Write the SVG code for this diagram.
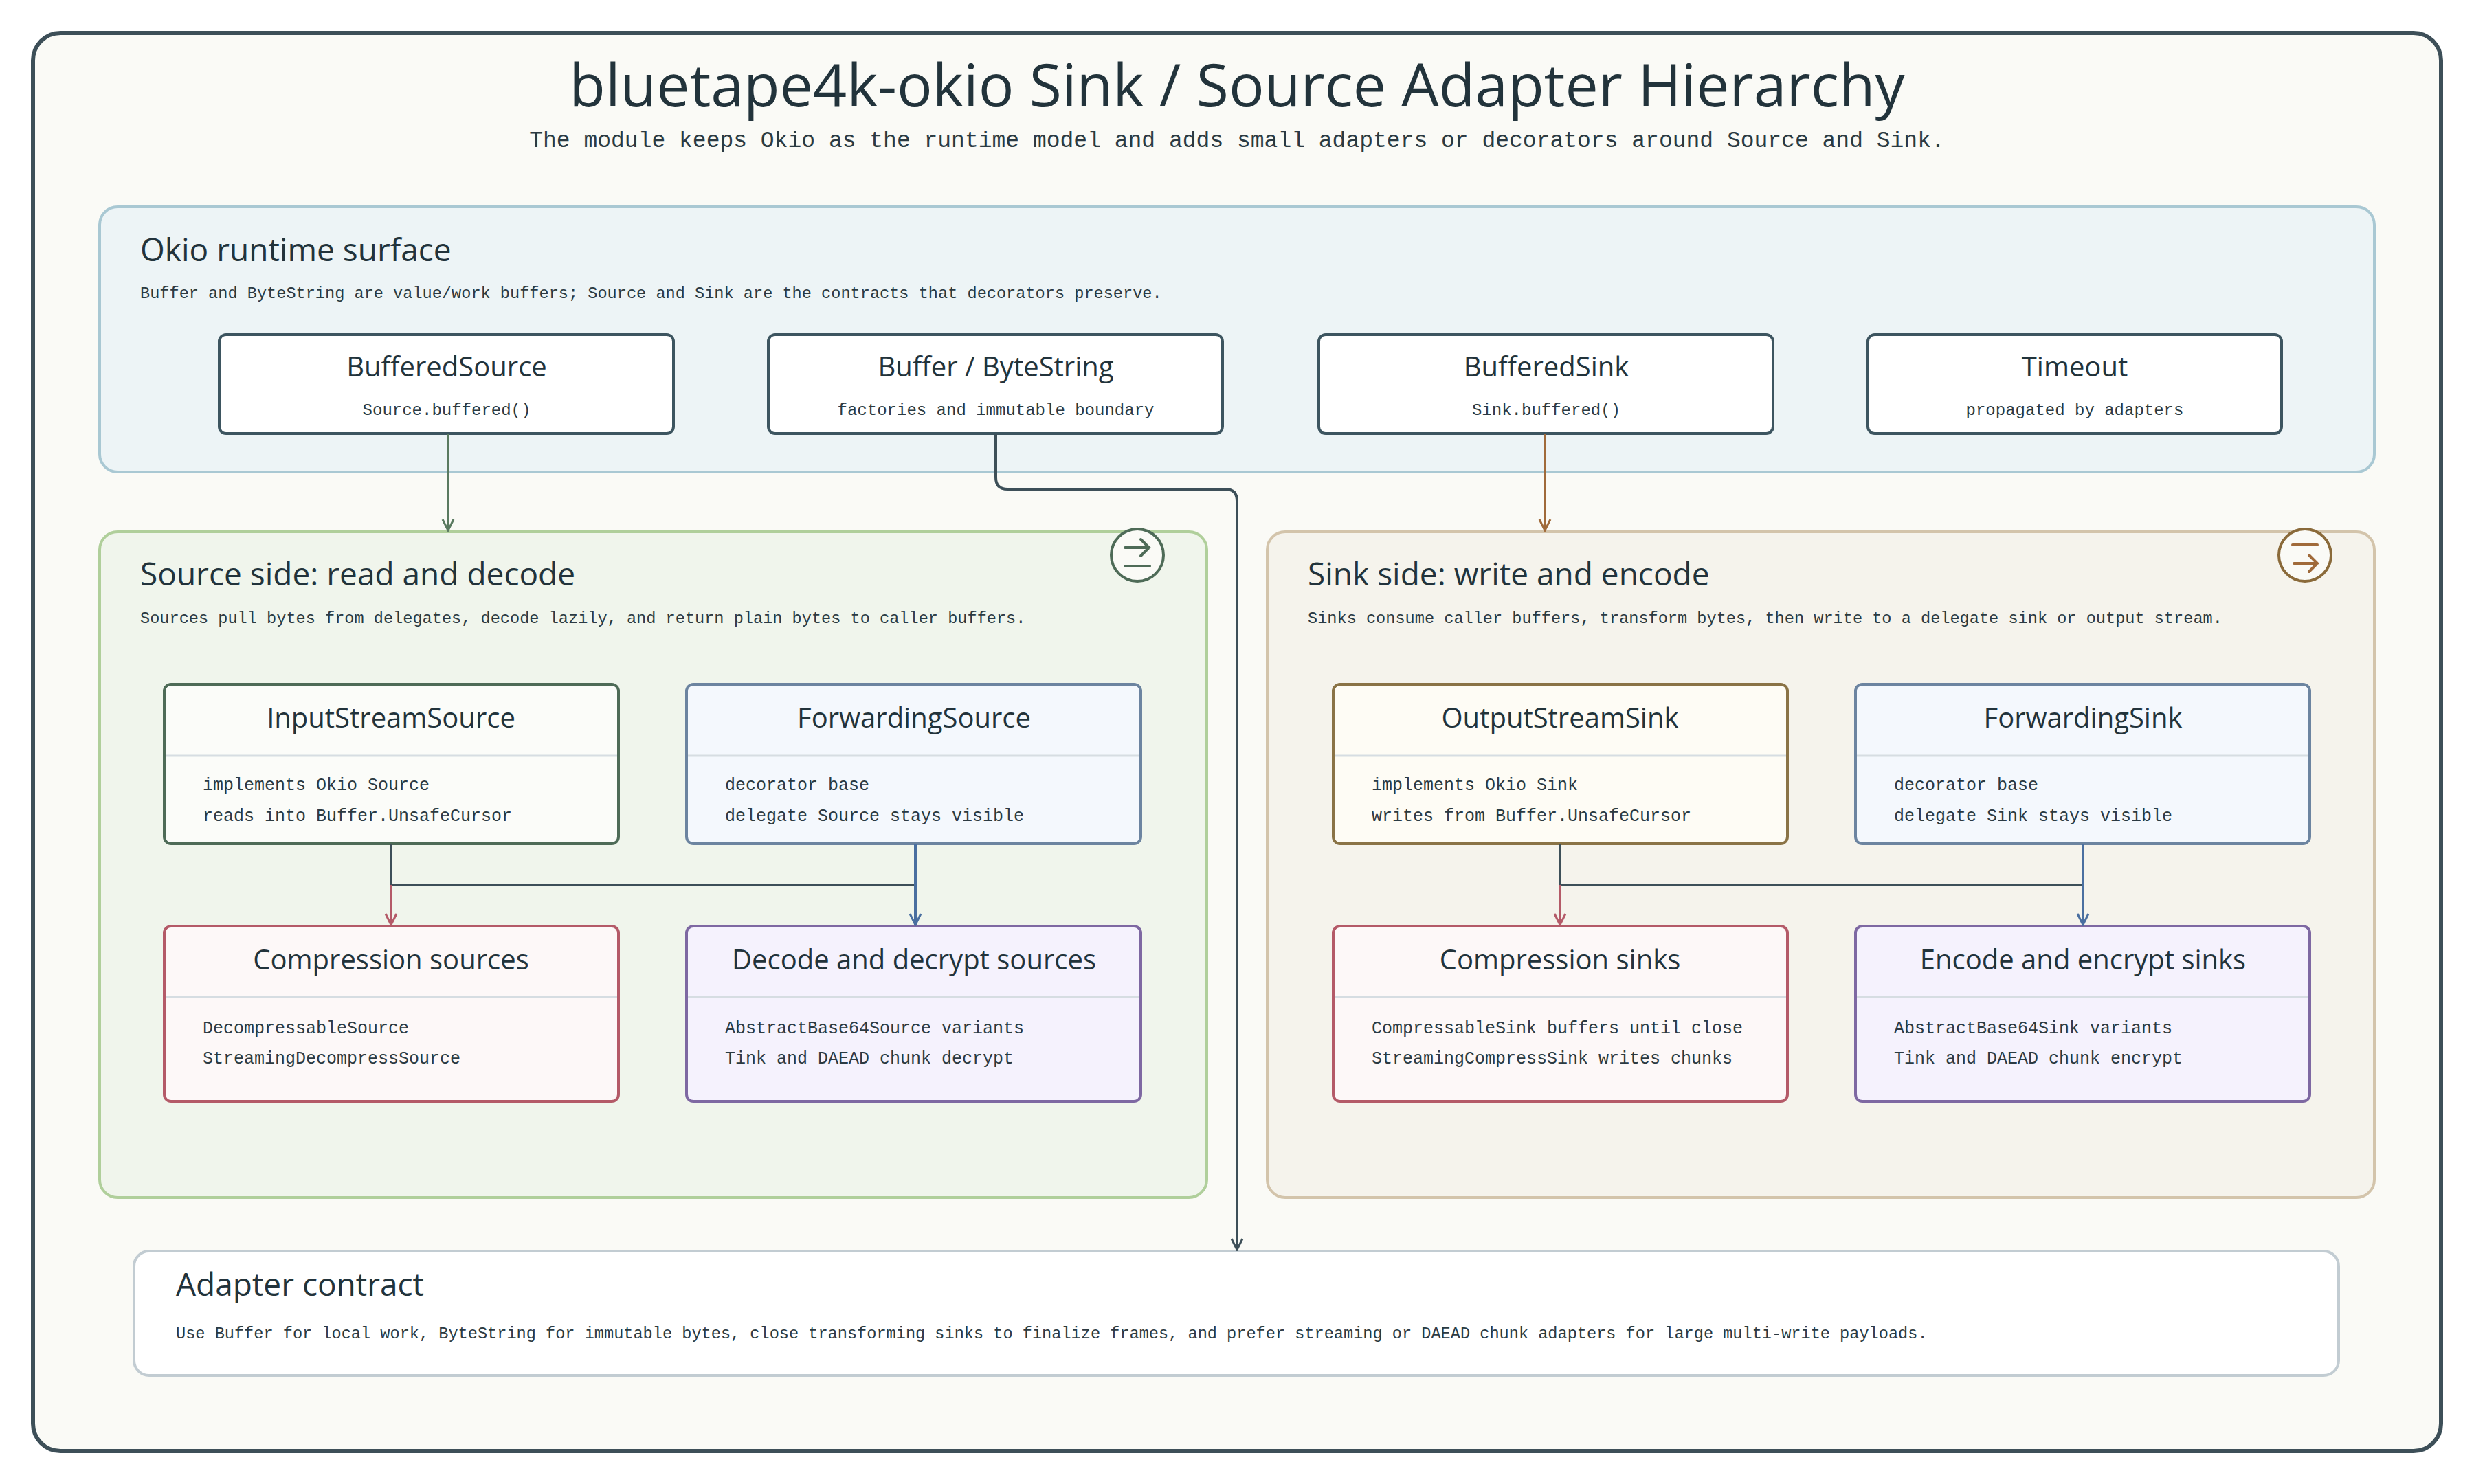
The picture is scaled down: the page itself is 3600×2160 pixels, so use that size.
<svg xmlns="http://www.w3.org/2000/svg" width="3600" height="2160" viewBox="0 0 3600 2160">
<defs>
<style>
.h{font-family:"Open Sans","Liberation Sans",sans-serif;fill:#22333b}
.m{font-family:"Liberation Mono","DejaVu Sans Mono",monospace;fill:#2b3a42}
.div{stroke:#d6dde2;stroke-width:3}
.c{fill:none;stroke-width:4;stroke-linejoin:round}
</style>
<marker id="ag" viewBox="0 0 20 20" refX="10" refY="18" markerWidth="20" markerHeight="20" markerUnits="userSpaceOnUse"><path d="M2 2 L10 18 L18 2" fill="none" stroke="#5a7a60" stroke-width="3"/></marker>
<marker id="ab" viewBox="0 0 20 20" refX="10" refY="18" markerWidth="20" markerHeight="20" markerUnits="userSpaceOnUse"><path d="M2 2 L10 18 L18 2" fill="none" stroke="#a06a3a" stroke-width="3"/></marker>
<marker id="ad" viewBox="0 0 20 20" refX="10" refY="18" markerWidth="20" markerHeight="20" markerUnits="userSpaceOnUse"><path d="M2 2 L10 18 L18 2" fill="none" stroke="#3d4f58" stroke-width="3"/></marker>
<marker id="ar" viewBox="0 0 20 20" refX="10" refY="18" markerWidth="20" markerHeight="20" markerUnits="userSpaceOnUse"><path d="M2 2 L10 18 L18 2" fill="none" stroke="#b45a68" stroke-width="3"/></marker>
<marker id="al" viewBox="0 0 20 20" refX="10" refY="18" markerWidth="20" markerHeight="20" markerUnits="userSpaceOnUse"><path d="M2 2 L10 18 L18 2" fill="none" stroke="#4a6fa0" stroke-width="3"/></marker>
</defs>
<rect width="3600" height="2160" fill="#ffffff"/>
<rect x="48" y="48" width="3504" height="2064" rx="40" fill="#fafaf6" stroke="#3d4f58" stroke-width="6"/>
<text class="h" x="1800" y="155" font-size="86" text-anchor="middle">bluetape4k-okio Sink / Source Adapter Hierarchy</text>
<text class="m" x="1800" y="214" font-size="33" text-anchor="middle">The module keeps Okio as the runtime model and adds small adapters or decorators around Source and Sink.</text>

<g id="okio-panel">
<rect x="145" y="301" width="3310" height="386" rx="26" fill="#edf4f6" stroke="#a9c8d3" stroke-width="4"/>
<text class="h" x="204" y="380" font-size="46">Okio runtime surface</text>
<text class="m" x="204" y="434" font-size="23.6">Buffer and ByteString are value/work buffers; Source and Sink are the contracts that decorators preserve.</text>
</g>
<g id="buffered-source"><rect x="319" y="487" width="661" height="144" rx="10" fill="#fff" stroke="#3d5560" stroke-width="4"/>
<text class="h" x="650" y="548" font-size="40" text-anchor="middle">BufferedSource</text>
<text class="m" x="650" y="604" font-size="24" text-anchor="middle">Source.buffered()</text></g>
<g id="buffer-bytestring"><rect x="1118" y="487" width="661" height="144" rx="10" fill="#fff" stroke="#3d5560" stroke-width="4"/>
<text class="h" x="1449" y="548" font-size="40" text-anchor="middle">Buffer / ByteString</text>
<text class="m" x="1449" y="604" font-size="24" text-anchor="middle">factories and immutable boundary</text></g>
<g id="buffered-sink"><rect x="1919" y="487" width="661" height="144" rx="10" fill="#fff" stroke="#3d5560" stroke-width="4"/>
<text class="h" x="2250" y="548" font-size="40" text-anchor="middle">BufferedSink</text>
<text class="m" x="2250" y="604" font-size="24" text-anchor="middle">Sink.buffered()</text></g>
<g id="timeout"><rect x="2718" y="487" width="602" height="144" rx="10" fill="#fff" stroke="#3d5560" stroke-width="4"/>
<text class="h" x="3019" y="548" font-size="40" text-anchor="middle">Timeout</text>
<text class="m" x="3019" y="604" font-size="24" text-anchor="middle">propagated by adapters</text></g>

<g id="source-panel">
<rect x="145" y="774" width="1611" height="969" rx="26" fill="#f0f5ec" stroke="#b0cf9b" stroke-width="4"/>
<text class="h" x="204" y="852" font-size="46">Source side: read and decode</text>
<text class="m" x="204" y="907" font-size="23.6">Sources pull bytes from delegates, decode lazily, and return plain bytes to caller buffers.</text>
<circle cx="1655" cy="808" r="38" fill="#fafaf6" stroke="#4e6b57" stroke-width="4"/>
<path d="M1637 797 H1672 M1660 785 L1672 797 L1660 809 M1637 824 H1673" fill="none" stroke="#4e6b57" stroke-width="4" stroke-linecap="round"/>
</g>
<g id="sink-panel">
<rect x="1844" y="774" width="1611" height="969" rx="26" fill="#f5f3ec" stroke="#d3c4ab" stroke-width="4"/>
<text class="h" x="1903" y="852" font-size="46">Sink side: write and encode</text>
<text class="m" x="1903" y="907" font-size="23.6">Sinks consume caller buffers, transform bytes, then write to a delegate sink or output stream.</text>
<circle cx="3354" cy="808" r="38" fill="#fafaf6" stroke="#8a6a3a" stroke-width="4"/>
<path d="M3336 793 H3372 M3338 820 H3372 M3360 808 L3372 820 L3360 832" fill="none" stroke="#a06a3a" stroke-width="4" stroke-linecap="round"/>
</g>

<g id="input-stream-source"><rect x="239" y="996" width="661" height="232" rx="10" fill="#fbfcf9" stroke="#4e6b57" stroke-width="4"/>
<line class="div" x1="241" y1="1100" x2="898" y2="1100"/>
<text class="h" x="569" y="1059" font-size="40" text-anchor="middle">InputStreamSource</text>
<text class="m" x="295" y="1150" font-size="25">implements Okio Source</text>
<text class="m" x="295" y="1195" font-size="25">reads into Buffer.UnsafeCursor</text></g>
<g id="forwarding-source"><rect x="999" y="996" width="661" height="232" rx="10" fill="#f4f8fd" stroke="#6c84a0" stroke-width="4"/>
<line class="div" x1="1001" y1="1100" x2="1658" y2="1100"/>
<text class="h" x="1330" y="1059" font-size="40" text-anchor="middle">ForwardingSource</text>
<text class="m" x="1055" y="1150" font-size="25">decorator base</text>
<text class="m" x="1055" y="1195" font-size="25">delegate Source stays visible</text></g>
<g id="compression-sources"><rect x="239" y="1348" width="661" height="255" rx="10" fill="#fdf8f8" stroke="#b45a68" stroke-width="4"/>
<line class="div" x1="241" y1="1451" x2="898" y2="1451"/>
<text class="h" x="569" y="1411" font-size="40" text-anchor="middle">Compression sources</text>
<text class="m" x="295" y="1504" font-size="25">DecompressableSource</text>
<text class="m" x="295" y="1548" font-size="25">StreamingDecompressSource</text></g>
<g id="decode-decrypt-sources"><rect x="999" y="1348" width="661" height="255" rx="10" fill="#f5f2fd" stroke="#7e68a2" stroke-width="4"/>
<line class="div" x1="1001" y1="1451" x2="1658" y2="1451"/>
<text class="h" x="1330" y="1411" font-size="40" text-anchor="middle">Decode and decrypt sources</text>
<text class="m" x="1055" y="1504" font-size="25">AbstractBase64Source variants</text>
<text class="m" x="1055" y="1548" font-size="25">Tink and DAEAD chunk decrypt</text></g>

<g id="output-stream-sink"><rect x="1940" y="996" width="661" height="232" rx="10" fill="#fefcf5" stroke="#8a7346" stroke-width="4"/>
<line class="div" x1="1942" y1="1100" x2="2599" y2="1100"/>
<text class="h" x="2270" y="1059" font-size="40" text-anchor="middle">OutputStreamSink</text>
<text class="m" x="1996" y="1150" font-size="25">implements Okio Sink</text>
<text class="m" x="1996" y="1195" font-size="25">writes from Buffer.UnsafeCursor</text></g>
<g id="forwarding-sink"><rect x="2700" y="996" width="661" height="232" rx="10" fill="#f4f8fd" stroke="#6c84a0" stroke-width="4"/>
<line class="div" x1="2702" y1="1100" x2="3359" y2="1100"/>
<text class="h" x="3031" y="1059" font-size="40" text-anchor="middle">ForwardingSink</text>
<text class="m" x="2756" y="1150" font-size="25">decorator base</text>
<text class="m" x="2756" y="1195" font-size="25">delegate Sink stays visible</text></g>
<g id="compression-sinks"><rect x="1940" y="1348" width="661" height="255" rx="10" fill="#fdf8f8" stroke="#b45a68" stroke-width="4"/>
<line class="div" x1="1942" y1="1451" x2="2599" y2="1451"/>
<text class="h" x="2270" y="1411" font-size="40" text-anchor="middle">Compression sinks</text>
<text class="m" x="1996" y="1504" font-size="25">CompressableSink buffers until close</text>
<text class="m" x="1996" y="1548" font-size="25">StreamingCompressSink writes chunks</text></g>
<g id="encode-encrypt-sinks"><rect x="2700" y="1348" width="661" height="255" rx="10" fill="#f5f2fd" stroke="#7e68a2" stroke-width="4"/>
<line class="div" x1="2702" y1="1451" x2="3359" y2="1451"/>
<text class="h" x="3031" y="1411" font-size="40" text-anchor="middle">Encode and encrypt sinks</text>
<text class="m" x="2756" y="1504" font-size="25">AbstractBase64Sink variants</text>
<text class="m" x="2756" y="1548" font-size="25">Tink and DAEAD chunk encrypt</text></g>

<g id="adapter-contract"><rect x="195" y="1821" width="3208" height="181" rx="22" fill="#ffffff" stroke="#c2ccd2" stroke-width="4"/>
<text class="h" x="256" y="1886" font-size="46">Adapter contract</text>
<text class="m" x="256" y="1948" font-size="23.6">Use Buffer for local work, ByteString for immutable bytes, close transforming sinks to finalize frames, and prefer streaming or DAEAD chunk adapters for large multi-write payloads.</text></g>

<g id="connectors">
<path class="c" d="M652 631 V772" stroke="#5a7a60" marker-end="url(#ag)"/>
<path class="c" d="M2248 631 V772" stroke="#a06a3a" marker-end="url(#ab)"/>
<path class="c" d="M1449 631 V695 Q1449 712 1466 712 H1783 Q1800 712 1800 729 V1819" stroke="#3d4f58" marker-end="url(#ad)"/>
<path class="c" d="M569 1228 V1288 H1332" stroke="#3d4f58" stroke-width="5"/>
<path class="c" d="M569 1288 V1346" stroke="#b45a68" marker-end="url(#ar)"/>
<path class="c" d="M1332 1228 V1346" stroke="#4a6fa0" marker-end="url(#al)"/>
<path class="c" d="M2270 1228 V1288 H3031" stroke="#3d4f58" stroke-width="5"/>
<path class="c" d="M2270 1288 V1346" stroke="#b45a68" marker-end="url(#ar)"/>
<path class="c" d="M3031 1228 V1346" stroke="#4a6fa0" marker-end="url(#al)"/>
</g>
</svg>
